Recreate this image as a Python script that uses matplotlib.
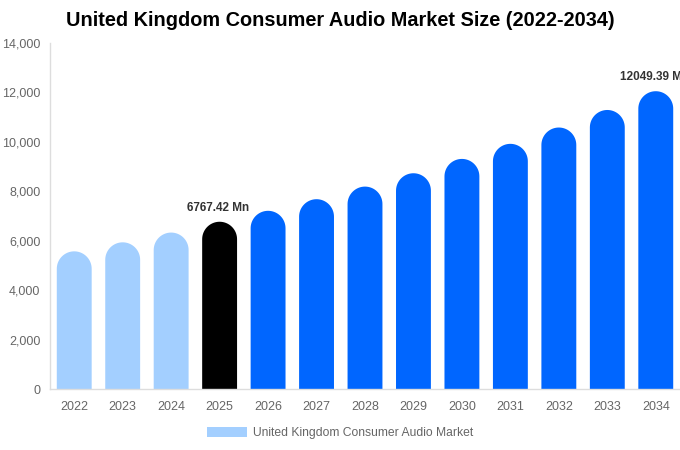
import numpy as np
import matplotlib.pyplot as plt
from matplotlib.patches import Polygon, Patch

# Data
years = ['2022', '2023', '2024', '2025', '2026', '2027', '2028',
         '2029', '2030', '2031', '2032', '2033', '2034']
market_size = [5570, 5935, 6330, 6767.42, 7210, 7680, 8190,
               8730, 9310, 9920, 10580, 11290, 12049.39]
bar_colors = ['#a3cfff'] * 3 + ['#000000'] + ['#0066ff'] * 9
labels = {3: '6767.42 Mn', 12: '12049.39 Mn'}

plt.rcParams['font.family'] = ['Liberation Sans', 'DejaVu Sans']

fig = plt.figure(figsize=(6.8, 4.5), dpi=100)
ax = fig.add_axes([50 / 680, 61 / 450, 630 / 680, 346 / 450])

ymax = 14000
bar_w = 0.72
ax.set_xlim(-0.5, len(years) - 0.5)
ax.set_ylim(0, ymax)

# radius of the rounded top, in data units (half bar width in pixels)
px_per_x = 630 / len(years)
px_per_y = 346 / ymax
r_px = bar_w * px_per_x / 2
r_y = r_px / px_per_y

theta = np.linspace(0, np.pi, 40)
for i, (v, c) in enumerate(zip(market_size, bar_colors)):
    arc_x = i + (bar_w / 2) * np.cos(theta)
    arc_y = (v - r_y) + r_y * np.sin(theta)
    xs = np.concatenate([[i + bar_w / 2], arc_x, [i - bar_w / 2]])
    ys = np.concatenate([[0], arc_y, [0]])
    ax.add_patch(Polygon(np.column_stack([xs, ys]), closed=True,
                         facecolor=c, edgecolor='none'))
    if i in labels:
        ax.text(i - 0.03, v + 330, labels[i], ha='center', va='bottom',
                fontsize=8.5, fontweight='bold', color='#333333', clip_on=False)

ax.set_xticks(range(len(years)))
ax.set_xticklabels(years)
ax.set_yticks(range(0, ymax + 1, 2000))
ax.set_yticklabels([f'{t:,}' for t in range(0, ymax + 1, 2000)])
ax.tick_params(axis='both', length=0, labelsize=9, colors='#666666')
ax.tick_params(axis='x', pad=9)
ax.tick_params(axis='y', pad=7)

for side in ['top', 'right']:
    ax.spines[side].set_visible(False)
for side in ['left', 'bottom']:
    ax.spines[side].set_color('#dddddd')
    ax.spines[side].set_linewidth(1)

fig.text(340 / 680, 1 - 21 / 450, 'United Kingdom Consumer Audio Market Size (2022-2034)',
         ha='center', va='center', fontsize=14.3, fontweight='bold', color='#000000')

handle = Patch(facecolor='#a3cfff', edgecolor='none')
fig.legend([handle], ['United Kingdom Consumer Audio Market'],
           loc='center', bbox_to_anchor=(340 / 680, 1 - 433 / 450),
           frameon=False, fontsize=8.7, labelcolor='#666666',
           handlelength=3.3, handleheight=0.9, handletextpad=0.45)

fig.savefig('out.png', dpi=100)
